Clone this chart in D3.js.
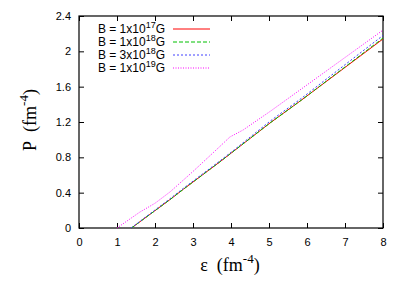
<!DOCTYPE html>
<html>
<head>
<meta charset="utf-8">
<script src="https://cdn.jsdelivr.net/npm/d3@7"></script>
<style>
  body { margin: 0; background: #fff; }
  .tick text { font-family: "Liberation Sans", Arial, sans-serif; font-size: 11px; fill: #000; }
  .title { font-family: "Liberation Serif", "Times New Roman", serif; font-size: 18px; fill: #000; }
  .leg { font-family: "Liberation Sans", Arial, sans-serif; font-size: 12px; fill: #000; }
</style>
</head>
<body>
<svg id="chart" width="403" height="283"></svg>
<script>
// P vs energy density for several field strengths
const xTicks = [0, 1, 2, 3, 4, 5, 6, 7, 8];
const yTicks = [0, 0.4, 0.8, 1.2, 1.6, 2, 2.4];

const eps17 = [1.38, 2.39, 2.75, 3.71, 4.1, 5.03, 5.86, 8];
const p17 = [0, 0.32, 0.44, 0.75, 0.88, 1.19, 1.45, 2.14];
const eps18 = [1.38, 2.39, 2.75, 3.71, 4.1, 5.03, 5.86, 8];
const p18 = [0, 0.32, 0.44, 0.75, 0.88, 1.19, 1.45, 2.15];
const eps3e18 = [1.37, 2.39, 2.75, 3.71, 4.1, 5.03, 5.86, 8];
const p3e18 = [0, 0.33, 0.45, 0.76, 0.89, 1.21, 1.47, 2.18];
const eps19 = [1.0, 1.6, 2.0, 2.4, 3.0, 3.4, 3.7, 3.97, 4.32, 5.03, 6, 8];
const p19 = [0, 0.18, 0.28, 0.41, 0.64, 0.8, 0.92, 1.03, 1.11, 1.32, 1.62, 2.24];

const series = [
  {exp: "17", mant: "1", x: eps17, y: p17, color: "#ff0000", dash: null},
  {exp: "18", mant: "1", x: eps18, y: p18, color: "#00c000", dash: "4,2"},
  {exp: "18", mant: "3", x: eps3e18, y: p3e18, color: "#4040ff", dash: "2,2"},
  {exp: "19", mant: "1", x: eps19, y: p19, color: "#ff00ff", dash: "1,1.5"}
];

const svg = d3.select("#chart");
const mLeft = 79, mRight = 383, mTop = 16, mBottom = 228;

const x = d3.scaleLinear().domain([0, 8]).range([mLeft, mRight]);
const y = d3.scaleLinear().domain([0, 2.4]).range([mBottom, mTop]);

// frame
svg.append("rect")
  .attr("x", mLeft).attr("y", mTop)
  .attr("width", mRight - mLeft).attr("height", mBottom - mTop)
  .attr("fill", "none").attr("stroke", "#000").attr("stroke-width", 1.2);

// axes with inward ticks
svg.append("g")
  .attr("transform", `translate(0,${mBottom})`)
  .call(d3.axisBottom(x).tickValues(xTicks).tickFormat(d3.format("d")).tickSizeInner(-5).tickSizeOuter(0).tickPadding(10));
svg.append("g")
  .attr("transform", `translate(${mLeft},0)`)
  .call(d3.axisLeft(y).tickValues(yTicks).tickFormat(d => d).tickSizeInner(-5).tickSizeOuter(0).tickPadding(8));
svg.append("g")
  .attr("transform", `translate(0,${mTop})`)
  .call(d3.axisTop(x).tickValues(xTicks).tickSizeInner(-5).tickSizeOuter(0).tickFormat(""));
svg.append("g")
  .attr("transform", `translate(${mRight},0)`)
  .call(d3.axisRight(y).tickValues(yTicks).tickSizeInner(-5).tickSizeOuter(0).tickFormat(""));
svg.selectAll(".domain").remove();
svg.selectAll(".tick line").attr("stroke", "#000");

// lines
const line = d3.line().x(d => x(d[0])).y(d => y(d[1]));
series.forEach(s => {
  svg.append("path")
    .datum(s.x.map((v, i) => [v, s.y[i]]))
    .attr("d", line)
    .attr("fill", "none")
    .attr("stroke", s.color)
    .attr("stroke-width", 1)
    .attr("stroke-dasharray", s.dash);
});

// legend
series.forEach((s, i) => {
  const ly = 29 + i * 13;
  const t = svg.append("text").attr("class", "leg")
    .attr("x", 165).attr("y", ly + 4).attr("text-anchor", "end");
  t.append("tspan").text(`B = ${s.mant}x10`);
  t.append("tspan").attr("dy", -5).attr("font-size", "9px").text(s.exp);
  t.append("tspan").attr("dy", 5).text("G");
  svg.append("line")
    .attr("x1", 173).attr("x2", 210).attr("y1", ly).attr("y2", ly)
    .attr("stroke", s.color).attr("stroke-width", 1)
    .attr("stroke-dasharray", s.dash);
});

// axis titles
const xt = svg.append("text").attr("class", "title")
  .attr("x", 230).attr("y", 271).attr("text-anchor", "middle");
xt.append("tspan").text("ε\u00a0\u00a0(fm");
xt.append("tspan").attr("dy", -8).attr("font-size", "13px").text("-4");
xt.append("tspan").attr("dy", 8).text(")");

const yt = svg.append("text").attr("class", "title")
  .attr("transform", "translate(36,120) rotate(-90)").attr("text-anchor", "middle");
yt.append("tspan").text("P\u00a0\u00a0(fm");
yt.append("tspan").attr("dy", -8).attr("font-size", "13px").text("-4");
yt.append("tspan").attr("dy", 8).text(")");
</script>
</body>
</html>
